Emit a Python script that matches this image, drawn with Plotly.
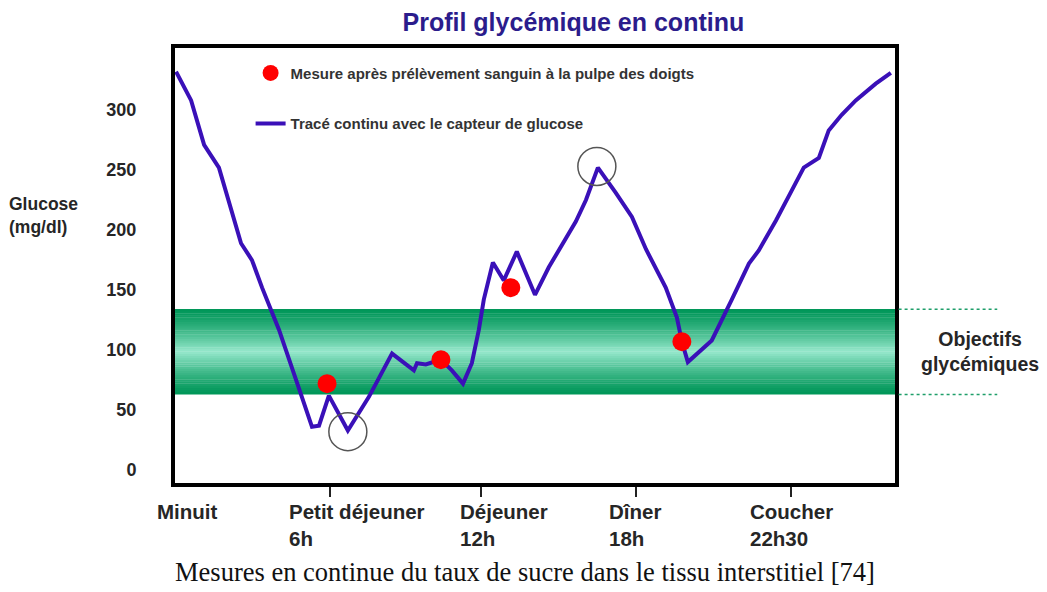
"""Profil glycémique en continu - reproduction Plotly"""
import plotly.graph_objects as go

# Tracé continu du capteur (axe x en heures « schématiques »)
temps_h = [0.04, 0.62, 1.12, 1.69, 2.54, 2.96, 3.35, 4.0, 4.88, 5.27, 5.54, 5.92,
           6.65, 7.46, 8.35, 9.19, 9.31, 9.65, 10.23, 10.65, 11.08, 11.42, 11.69,
           11.88, 12.23, 12.65, 13.15, 13.5, 13.85, 14.38, 15.42, 15.81, 16.27,
           16.96, 17.58, 18.12, 18.88, 19.31, 19.5, 19.73, 20.65, 21.42, 22.08,
           22.46, 23.12, 23.73, 24.19, 24.77, 25.15, 25.65, 26.19, 26.96, 27.54]
glycemie = [332, 308, 271, 252, 189, 175, 152, 117, 61, 36, 37, 62,
            33, 61, 97, 83, 89, 88, 92, 83, 72, 89, 117,
            142, 173, 158, 182, 165, 146, 169, 207, 225, 252,
            231, 211, 184, 152, 127, 107, 90, 108, 142, 172,
            183, 208, 233, 252, 260, 283, 296, 308, 322, 331]

# Mesures capillaires (points rouges)
mesures_h = [5.85, 10.23, 12.92, 19.5]
mesures_val = [72, 92, 152, 107]

# Cercles (hypo / hyper non détectées)
cercles_h = [6.65, 16.23]
cercles_val = [32, 253]

# Objectifs glycémiques
cible_basse = 63
cible_haute = 134

# Axe x
x_ticks = [5.96, 11.77, 17.73, 23.69]
x_labels = ["Minuit", "Petit déjeuner<br>6h", "Déjeuner<br>12h", "Dîner<br>18h", "Coucher<br>22h30"]
x_label_pos = [-0.028, 0.156, 0.393, 0.600, 0.796]

y_ticks = [0, 50, 100, 150, 200, 250, 300]

FONT = "Liberation Sans, Arial, sans-serif"
TEXT = "#262626"


def mix(c1, c2, t):
    return "rgb({},{},{})".format(*[round(a + (b - a) * t) for a, b in zip(c1, c2)])


def create_chart() -> go.Figure:
    fig = go.Figure()

    # bande verte en dégradé (foncé - clair - foncé)
    dark = (0, 150, 88)
    light = (150, 232, 204)
    n = 40
    step = (cible_haute - cible_basse) / n
    for i in range(n):
        t = 1 - abs((i + 0.5) / n - 0.5) * 2
        fig.add_shape(type="rect", xref="paper", x0=0, x1=1,
                      y0=cible_basse + i * step, y1=cible_basse + (i + 1) * step + 0.3,
                      fillcolor=mix(dark, light, t ** 1.3), line_width=0, layer="below")

    # pointillés à droite du cadre
    for yv in (cible_haute, cible_basse):
        fig.add_shape(type="line", xref="paper", x0=1.005, x1=1.142, y0=yv, y1=yv,
                      line=dict(color="#1f9e6a", width=1.5, dash="dot"))

    fig.add_trace(go.Scatter(
        x=temps_h, y=glycemie, mode="lines",
        name="Tracé continu avec le capteur de glucose",
        line=dict(color="#3a10b8", width=4),
        legendgroup="b", legendrank=2
    ))

    fig.add_trace(go.Scatter(
        x=cercles_h, y=cercles_val, mode="markers", showlegend=False,
        marker=dict(size=38, color="rgba(0,0,0,0)", line=dict(color="#555555", width=1.5)),
        hoverinfo="skip"
    ))

    fig.add_trace(go.Scatter(
        x=mesures_h, y=mesures_val, mode="markers",
        name="Mesure après prélèvement sanguin à la pulpe des doigts",
        marker=dict(size=19, color="#ff0000"),
        legendgroup="a", legendrank=1
    ))

    fig.update_xaxes(
        range=[0, 27.7], tickvals=x_ticks, showticklabels=False,
        ticks="outside", ticklen=10, tickwidth=2, tickcolor="#222",
        showline=True, linewidth=4, linecolor="black", mirror=True,
        showgrid=False, zeroline=False
    )
    fig.update_yaxes(
        range=[-10.8, 351.7], tickvals=y_ticks,
        tickfont=dict(family=FONT, size=18, color=TEXT, weight="bold"),
        ticks="", ticklabelstandoff=31,
        showline=True, linewidth=4, linecolor="black", mirror=True,
        showgrid=False, zeroline=False
    )

    for label, xp in zip(x_labels, x_label_pos):
        fig.add_annotation(
            text=label, xref="paper", yref="paper", x=xp, y=-0.035,
            xanchor="left", yanchor="top", align="left", showarrow=False,
            font=dict(family=FONT, size=20.5, color=TEXT, weight="bold")
        )

    fig.add_annotation(
        text="Glucose<br>(mg/dl)", xref="paper", yref="paper", x=-0.233, y=0.615,
        xanchor="left", yanchor="middle", align="left", showarrow=False,
        font=dict(family=FONT, size=17.5, color=TEXT, weight="bold")
    )
    fig.add_annotation(
        text="Objectifs<br>glycémiques", xref="paper", yref="y", x=1.118, y=(cible_basse + cible_haute) / 2,
        xanchor="center", yanchor="middle", align="center", showarrow=False,
        font=dict(family=FONT, size=19.5, color=TEXT, weight="bold")
    )
    fig.add_annotation(
        text="Mesures en continue du taux de sucre dans le tissu interstitiel [74]",
        xref="paper", yref="paper", x=0.486, y=-0.205,
        xanchor="center", yanchor="middle", showarrow=False,
        font=dict(family="Liberation Serif, Times New Roman, serif", size=26.5, color="#111")
    )

    # la page ajoute une marge de 8 px : marges réduites d'autant
    fig.update_layout(
        title=dict(text="<b>Profil glycémique en continu</b>", x=0.54, xanchor="center",
                   y=0.976, yanchor="middle",
                   font=dict(family=FONT, size=25, color="#2b1c8c")),
        width=1047, height=592,
        margin=dict(l=167, r=160, t=40, b=117),
        plot_bgcolor="white", paper_bgcolor="white",
        legend=dict(x=0.105, y=0.98, xanchor="left", yanchor="top",
                    bgcolor="rgba(0,0,0,0)", tracegroupgap=28,
                    font=dict(family=FONT, size=15, color="#333", weight="bold")),
        showlegend=True
    )
    return fig


fig = create_chart()
fig.write_html("out.html")
